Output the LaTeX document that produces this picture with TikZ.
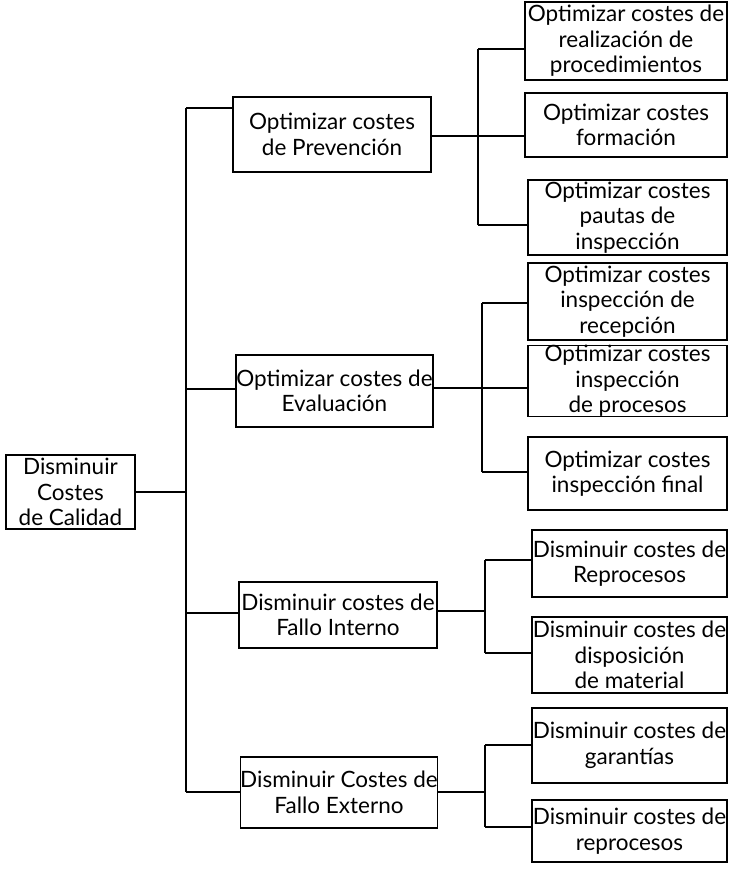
\documentclass[tikz,border=0pt]{standalone}
\usepackage{fontspec}
\setmainfont{Lato}
\begin{document}
\begin{tikzpicture}[x=1pt,y=-1pt,
  box/.style={draw,line width=1.1pt,align=center,inner sep=0pt,
    font=\fontsize{22.5}{25.5}\selectfont},
  link/.style={line width=1.1pt}]
\useasboundingbox[fill=white] (0,0) rectangle (729,874);

% root
\node[box,minimum width=129pt,minimum height=74pt] (root) at (70.5,492) {Disminuir\\Costes\\de Calidad};

% first level
\node[box,minimum width=198pt,minimum height=75pt] (P) at (332,134.5) {Optimizar costes\\de Prevención};
\node[box,minimum width=197pt,minimum height=72pt] (E) at (334.5,391) {Optimizar costes de\\Evaluación};
\node[box,minimum width=198pt,minimum height=66pt] (I) at (338,615) {Disminuir costes de\\Fallo Interno};
\node[box,minimum width=196pt,minimum height=71pt] (X) at (339,792.5) {Disminuir Costes de\\Fallo Externo};

% second level
\node[box,minimum width=202pt,minimum height=78pt] (a1) at (626,41) {Optimizar costes de\\realización de\\procedimientos};
\node[box,minimum width=202pt,minimum height=64pt] (a2) at (626,125) {Optimizar costes\\formación};
\node[box,minimum width=199pt,minimum height=75pt] (a3) at (627.5,217.5) {Optimizar costes\\pautas de\\inspección};
\node[box,minimum width=199pt,minimum height=77pt] (b1) at (627.5,301.5) {Optimizar costes\\inspección de\\recepción};
\node[box,minimum width=199pt,minimum height=68pt] (b2) at (627.5,381) {Optimizar costes\\inspección\\de procesos};
\node[box,minimum width=199pt,minimum height=73pt] (b3) at (627.5,473.5) {Optimizar costes\\inspección final};
\node[box,minimum width=195pt,minimum height=67pt] (c1) at (629.5,563.5) {Disminuir costes de\\Reprocesos};
\node[box,minimum width=195pt,minimum height=76pt] (c2) at (629.5,655) {Disminuir costes de\\disposición\\de material};
\node[box,minimum width=195pt,minimum height=75pt] (d1) at (629.5,745.5) {Disminuir costes de\\garantías};
\node[box,minimum width=195pt,minimum height=62pt] (d2) at (629.5,831) {Disminuir costes de\\reprocesos};

% trunk joints
\coordinate (tP) at (186,108);
\coordinate (tR) at (186,492);
\coordinate (tE) at (186,389);
\coordinate (tI) at (186,613);
\coordinate (tX) at (186,792);

\draw[link] (tP) -- (tX);
\draw[link] (root.east |- tR) -- (tR);
\draw[link] (tP) -- (tP -| P.west);
\draw[link] (tE) -- (tE -| E.west);
\draw[link] (tI) -- (tI -| I.west);
\draw[link] (tX) -- (tX -| X.west);

% Prevención branch
\coordinate (pa1) at (478,49);
\coordinate (pa2) at (478,136);
\coordinate (pa3) at (478,225);
\draw[link] (pa1) -- (pa3);
\draw[link] (P.east |- pa2) -- (pa2 -| a2.west);
\draw[link] (pa1) -- (pa1 -| a1.west);
\draw[link] (pa3) -- (pa3 -| a3.west);

% Evaluación branch
\coordinate (pb1) at (482,303);
\coordinate (pb2) at (482,388);
\coordinate (pb3) at (482,472);
\draw[link] (pb1) -- (pb3);
\draw[link] (E.east |- pb2) -- (pb2 -| b2.west);
\draw[link] (pb1) -- (pb1 -| b1.west);
\draw[link] (pb3) -- (pb3 -| b3.west);

% Fallo Interno branch
\coordinate (pc1) at (485,560);
\coordinate (pcm) at (485,611);
\coordinate (pc2) at (485,653);
\draw[link] (pc1) -- (pc2);
\draw[link] (I.east |- pcm) -- (pcm);
\draw[link] (pc1) -- (pc1 -| c1.west);
\draw[link] (pc2) -- (pc2 -| c2.west);

% Fallo Externo branch
\coordinate (pd1) at (485,745);
\coordinate (pdm) at (485,792);
\coordinate (pd2) at (485,827);
\draw[link] (pd1) -- (pd2);
\draw[link] (X.east |- pdm) -- (pdm);
\draw[link] (pd1) -- (pd1 -| d1.west);
\draw[link] (pd2) -- (pd2 -| d2.west);
\end{tikzpicture}
\end{document}
